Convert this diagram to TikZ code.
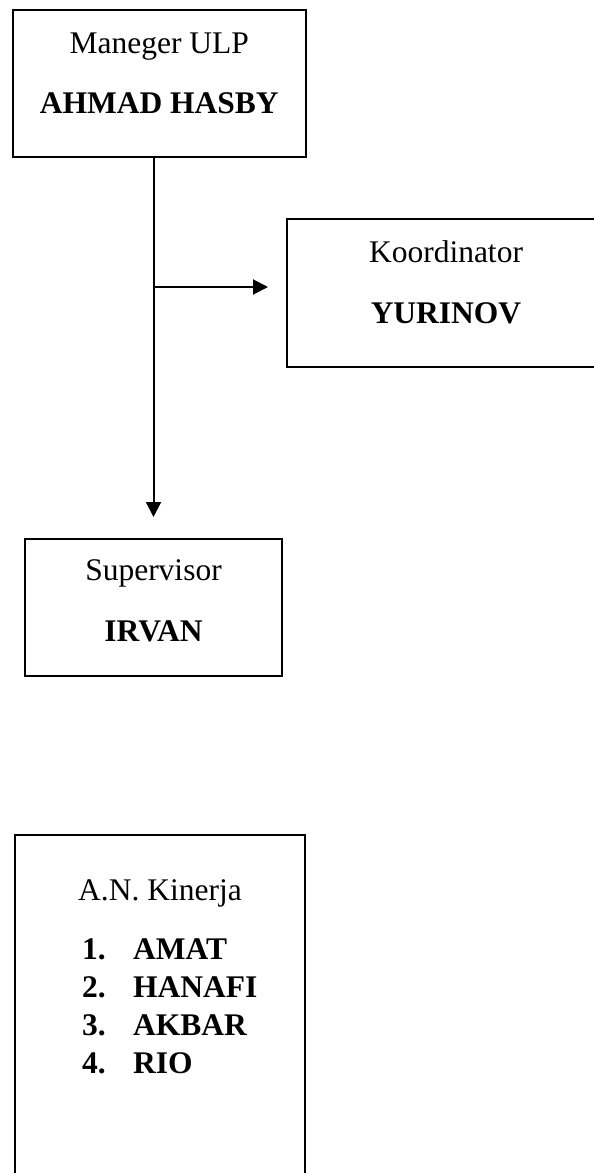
\documentclass[tikz,border=0pt]{standalone}
\usepackage{fontspec}
\setmainfont{Liberation Serif}
\usetikzlibrary{arrows.meta}
\tikzset{
  box/.style={draw, line width=2pt, inner sep=0pt},
  txt/.style={anchor=base, inner sep=0pt, font=\fontsize{31.5}{38}\selectfont},
  txtl/.style={anchor=base west, inner sep=0pt, font=\fontsize{31.5}{38}\selectfont\bfseries},
  arr/.style={line width=2pt, -{Triangle[length=15pt,width=15pt]}}
}
\begin{document}
\begin{tikzpicture}[x=1pt,y=1pt]
\useasboundingbox (0,0) rectangle (594,-1173);
% boxes
\node[box, minimum width=293.5pt, minimum height=147pt] (m) at (159.25,-83.5) {};
\node[box, minimum width=318pt, minimum height=148pt] (k) at (446,-293) {};
\node[box, minimum width=257pt, minimum height=137pt] (s) at (153.5,-607.5) {};
\node[box, minimum width=290pt, minimum height=380pt] (a) at (160,-1025) {};
% texts
\node[txt] (m1) at (159.25,-53) {Maneger ULP};
\node[txt] (m2) at (159.25,-113) {\bfseries AHMAD HASBY};
\node[txt] (k1) at (446,-262) {Koordinator};
\node[txt] (k2) at (446,-323) {\bfseries YURINOV};
\node[txt] (s1) at (153.5,-580) {Supervisor};
\node[txt] (s2) at (153.5,-641) {\bfseries IRVAN};
\node[txt] (a0) at (160,-900) {A.N. Kinerja};
\node[txtl] (n1) at (82,-959) {1.};
\node[txtl] (l1) at (133,-959) {AMAT};
\node[txtl] (n2) at (82,-997) {2.};
\node[txtl] (l2) at (133,-997) {HANAFI};
\node[txtl] (n3) at (82,-1035) {3.};
\node[txtl] (l3) at (133,-1035) {AKBAR};
\node[txtl] (n4) at (82,-1073) {4.};
\node[txtl] (l4) at (133,-1073) {RIO};
% connectors
\coordinate (j) at (153,-287);
\draw[arr, shorten >=21pt] (m.south -| s.north) -- (s.north);
\draw[arr, shorten >=18pt] (j) -- (j -| k.west);
\end{tikzpicture}
\end{document}
